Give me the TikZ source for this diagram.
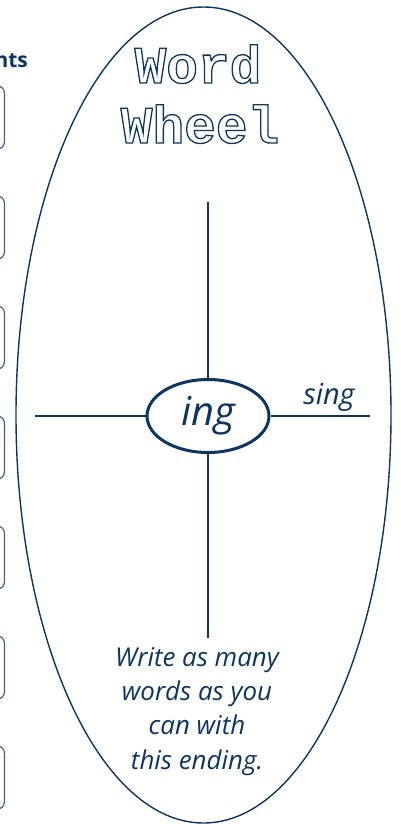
\documentclass[tikz,border=0pt]{standalone}
\usepackage{fontspec}
\setmainfont{Open Sans}
\newfontfamily\titlefont{Liberation Mono}
\usetikzlibrary{shapes.geometric,positioning}
\definecolor{wheelblue}{RGB}{13,54,94}
\definecolor{boxblue}{RGB}{70,95,125}
\newcommand{\outlinetext}[1]{\special{pdf:literal 1 Tr 1.3 w}#1\special{pdf:literal 0 Tr}}
\tikzset{
  wheel-rim/.style={ellipse, draw=wheelblue, line width=1.4bp, inner sep=0pt,
    minimum width=375bp, minimum height=816bp},
  wheel-spoke/.style={draw=wheelblue, line width=2.6bp},
  wheel-hub/.style={ellipse, draw=wheelblue, line width=3bp, inner sep=0pt,
    minimum width=122bp, minimum height=73bp, text=wheelblue,
    font=\itshape\fontsize{40}{40}\selectfont},
  wheel-word/.style={text=wheelblue, inner sep=0pt, font=\itshape\fontsize{29}{29}\selectfont},
  wheel-title/.style={text=wheelblue, inner sep=0pt, font=\titlefont\bfseries\fontsize{53}{53}\selectfont},
  answer-box/.style={draw=boxblue, line width=1.2bp, rounded corners=7bp,
    minimum width=60bp, minimum height=63bp}
}
\begin{document}
\begin{tikzpicture}[x=1bp, y=-1bp]
  \useasboundingbox (0,0) rectangle (400,824);
  \clip (0,0) rectangle (400,824);
  % answer column, cut off at the left
  \node[text=wheelblue, inner sep=0pt, anchor=base east, font=\bfseries\fontsize{21}{21}\selectfont] (heading) at (28,67) {nts};
  \foreach \i in {0,...,6}
    \node[answer-box, anchor=east] (box\i) at (5,117.5+110*\i) {};
  % the wheel
  \node[wheel-rim] (rim) at (203.5,415) {};
  \node[wheel-title, anchor=base] (word) at (198,83) {\outlinetext{Word}};
  \node[wheel-title, anchor=base] (wheel) at (200,143) {\outlinetext{Wheel}};
  \node[wheel-hub] (hub) at (208,416) {ing};
  \coordinate (spoke-n) at (208,202);
  \coordinate (spoke-s) at (208,638);
  \coordinate (spoke-w) at (35,416);
  \coordinate (spoke-e) at (370,416);
  \draw[wheel-spoke] (spoke-n) -- (hub);
  \draw[wheel-spoke] (hub) -- (spoke-s);
  \draw[wheel-spoke] (spoke-w) -- (hub);
  \draw[wheel-spoke] (hub) -- (spoke-e);
  \node[wheel-word, anchor=base] (sing) at (329,404) {sing};
  \node[wheel-word, align=center, anchor=north, font=\itshape\fontsize{26}{34.5}\selectfont] (prompt) at (197,647) {Write as many\\words as you\\can with\\ this ending.};
\end{tikzpicture}
\end{document}
